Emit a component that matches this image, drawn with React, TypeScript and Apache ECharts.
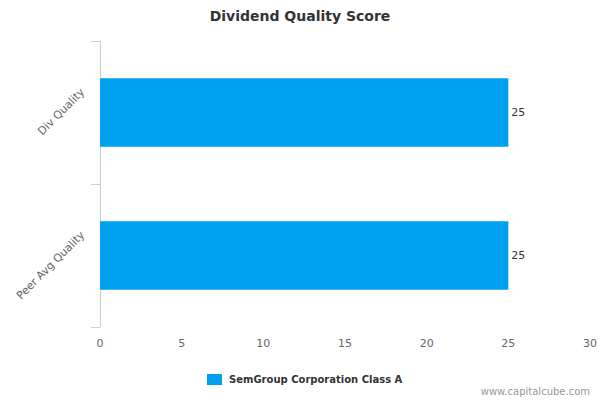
import React, { useRef, useEffect } from 'react';
import * as echarts from 'echarts';

const categories = ['Div Quality', 'Peer Avg Quality'];
const seriesName = 'SemGroup Corporation Class A';
const scores = [25, 25];
const xTicks = [0, 30, 5]; // min, max, step

const App: React.FC = () => {
    const chartRef = useRef<HTMLDivElement>(null);

    useEffect(() => {
        document.body.style.margin = '0';
        if (!chartRef.current) return;
        const chart = echarts.init(chartRef.current, null, { renderer: 'svg' });
        const font = '"DejaVu Sans", Verdana, sans-serif';

        const option: echarts.EChartsOption = {
            animation: false,
            backgroundColor: '#fff',
            textStyle: { fontFamily: font },
            title: {
                text: 'Dividend Quality Score',
                left: 'center',
                top: 4,
                textStyle: { fontSize: 14, fontWeight: 'bold', color: '#333', fontFamily: font }
            },
            grid: { left: 100, right: 10, top: 41, bottom: 73 },
            legend: {
                left: 202,
                top: 369,
                itemWidth: 15,
                itemHeight: 11,
                icon: 'rect',
                textStyle: {
                    fontSize: 10,
                    fontWeight: 'bold',
                    color: '#333',
                    fontFamily: font,
                    padding: [0, 0, 0, 2]
                }
            },
            xAxis: {
                type: 'value',
                min: xTicks[0],
                max: xTicks[1],
                interval: xTicks[2],
                axisLine: { show: false },
                axisTick: { show: false },
                splitLine: { show: false },
                axisLabel: { color: '#666', fontSize: 11, margin: 11, fontFamily: font }
            },
            yAxis: {
                type: 'category',
                data: categories,
                inverse: true,
                axisLine: { show: true, lineStyle: { color: '#C0D0E0', width: 1 } },
                axisTick: { show: true, length: 9, lineStyle: { color: '#C0D0E0' } },
                axisLabel: {
                    rotate: 45,
                    color: '#666',
                    fontSize: 11,
                    margin: -5,
                    verticalAlign: 'bottom',
                    padding: [0, 0, 26, 0],
                    fontFamily: font
                }
            },
            series: [
                {
                    name: seriesName,
                    type: 'bar',
                    data: scores,
                    barWidth: '48%',
                    itemStyle: { color: '#00A0F0' },
                    label: {
                        show: true,
                        position: 'right',
                        distance: 3,
                        color: '#333',
                        fontSize: 11,
                        fontFamily: font
                    }
                }
            ],
            graphic: [
                {
                    type: 'text',
                    right: 10,
                    top: 386,
                    style: {
                        text: 'www.capitalcube.com',
                        fill: '#999',
                        fontSize: 10,
                        fontFamily: font
                    }
                }
            ]
        };
        chart.setOption(option);

        return () => {
            chart.dispose();
        };
    }, []);

    return <div ref={chartRef} style={{ width: 600, height: 400 }} />;
};

export default App;
